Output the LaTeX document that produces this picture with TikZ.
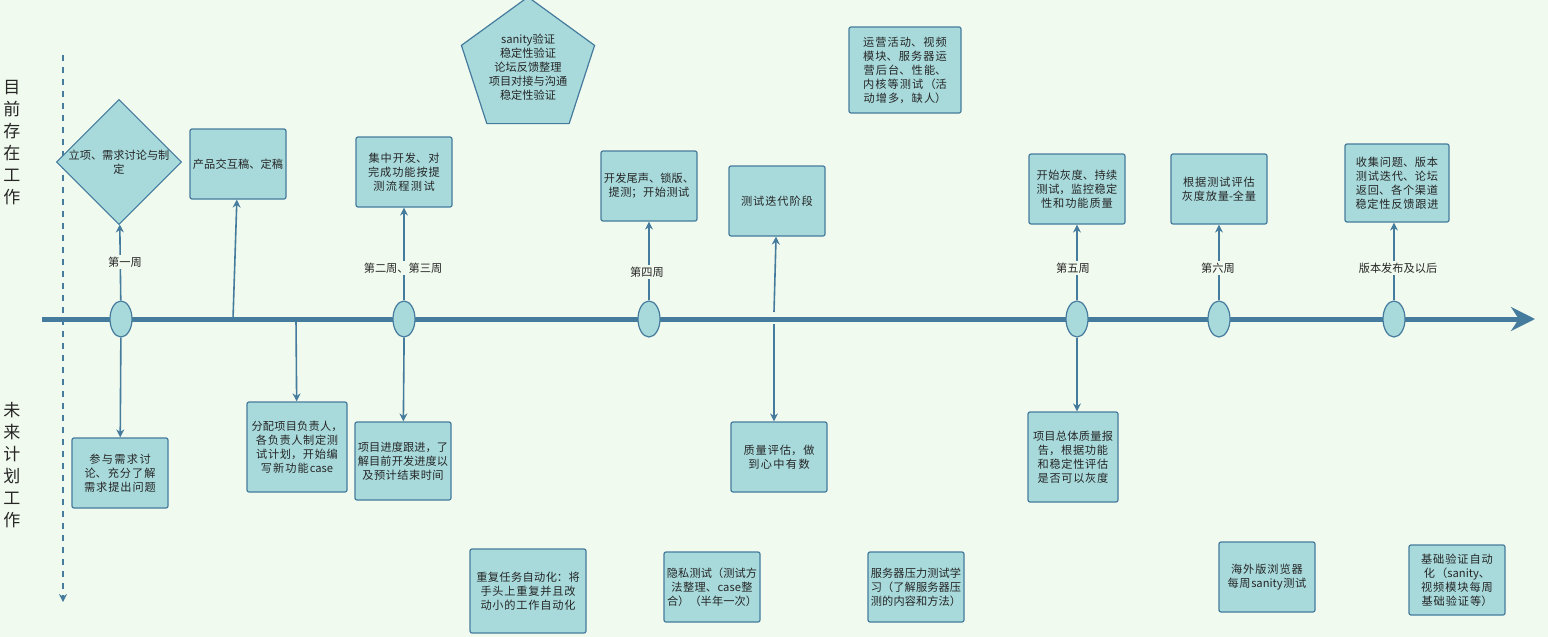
\documentclass[tikz,border=0pt]{standalone}
\usepackage{fontspec}
\setmainfont{Noto Sans CJK SC}
\XeTeXlinebreaklocale "zh"
\XeTeXlinebreakskip=0pt plus 1pt
\usetikzlibrary{shapes.geometric,arrows.meta}
\definecolor{bg}{HTML}{F1FAEE}
\definecolor{bx}{HTML}{A8DADC}
\definecolor{ln}{HTML}{457B9D}
\begin{document}
\begin{tikzpicture}[x=0.5pt,y=-0.5pt,
  every node/.style={font=\fontsize{5.6}{7}\selectfont, text=black!85, inner sep=1pt},
  box/.style={draw=ln, fill=bx, line width=0.6pt, rounded corners=1pt, align=center, text width=#1},
  box/.default=46pt,
  dot/.style={draw=ln, fill=bx, ellipse, minimum width=11pt, minimum height=18pt, line width=0.6pt, inner sep=0pt},
  con/.style={draw=ln, line width=0.8pt, -{Stealth[length=4pt,width=4pt]}},
  lab/.style={fill=bg, inner sep=1pt},
  side/.style={font=\fontsize{8.5}{11}\selectfont, align=center}]
\fill[bg] (0,0) rectangle (1548,637);
\useasboundingbox (0,0) rectangle (1548,637);
% side
\coordinate (dtop) at (63,55); \coordinate (dbot) at (63,602);
\draw[ln, dashed, line width=0.6pt, -{Stealth[length=4pt,width=4pt]}] (dtop) -- (dbot);
\node[side] (cur) at (12,143) {目\\前\\存\\在\\工\\作};
\node[side] (fut) at (12,465) {未\\来\\计\\划\\工\\作};
% timeline
\coordinate (ts) at (42,319); \coordinate (te) at (1535,319);
\draw[ln, line width=2.5pt, -{Stealth[length=12pt,width=12pt]}] (ts) -- (te);
\foreach \n/\x in {e1/121,e2/404,e3/649,e5/1077,e6/1219,e7/1394} \node[dot] (\n) at (\x,319) {};
\coordinate (t233) at (233,319); \coordinate (t296) at (296,319);
\coordinate (t774u) at (774,312); \coordinate (t774d) at (774,324);
% top
\node[draw=ln, fill=bx, diamond, line width=0.6pt, minimum width=60pt, minimum height=50pt, inner sep=0pt, align=center] (d1) at (119,162) {立项、需求讨论与制\\定};
\node[box, minimum height=35pt] (b2) at (238,164) {产品交互稿、定稿\\[14pt]};
\node[box, minimum height=35pt] (b3) at (404,172) {集中开发、对完成功能按提测流程测试\\[4pt]};
\node[draw=ln, fill=bx, regular polygon, regular polygon sides=5, minimum size=70pt, line width=0.6pt, inner sep=0pt, align=center] (p) at (528,67) {sanity验证\\稳定性验证\\论坛反馈整理\\项目对接与沟通\\稳定性验证};
\node[box, minimum height=35pt] (b4) at (649,186) {开发尾声、锁版、提测；开始测试};
\node[box, minimum height=35pt] (b5) at (777,201) {测试迭代阶段};
\node[box=54pt, minimum height=43pt] (b6) at (905,70) {运营活动、视频模块、服务器运营后台、性能、内核等测试（活动增多，缺人）};
\node[box, minimum height=35pt] (b7) at (1077,189) {开始灰度、持续测试，监控稳定性和功能质量};
\node[box, minimum height=35pt] (b8) at (1219,189) {根据测试评估灰度放量-全量};
\node[box=50pt, minimum height=39pt] (b9) at (1397,183) {收集问题、版本测试迭代、论坛返回、各个渠道稳定性反馈跟进};
% bottom
\node[box, minimum height=35pt] (c1) at (120,473) {参与需求讨论、充分了解需求提出问题};
\node[box=48pt, minimum height=45pt] (c2) at (297,447) {分配项目负责人，各负责人制定测试计划，开始编写新功能case};
\node[box, minimum height=39pt] (c3) at (403,461) {项目进度跟进，了解目前开发进度以及预计结束时间};
\node[box, minimum height=35pt] (c4) at (779,457) {质量评估，做到心中有数};
\node[box=43pt, minimum height=45pt] (c5) at (1073,457) {项目总体质量报告，根据功能和稳定性评估是否可以灰度};
\node[box=56pt, minimum height=42pt] (c6) at (528,591) {重复任务自动化：将手头上重复并且改动小的工作自动化};
\node[box, minimum height=35pt] (c7) at (712,587) {隐私测试（测试方法整理、case整合）（半年一次）};
\node[box, minimum height=35pt] (c8) at (916,587) {服务器压力测试学习（了解服务器压测的内容和方法）};
\node[box, minimum height=35pt] (c9) at (1267,577) {海外版浏览器每周sanity测试};
\node[box, minimum height=35pt] (c10) at (1457,580) {基础验证自动化（sanity、视频模块每周基础验证等）};
% connectors
\draw[con] (e1) -- (d1);
\draw[con] (e1) -- (c1);
\draw[con] (t233) -- (b2);
\draw[con] (t296) -- (c2);
\draw[con] (e2) -- (b3);
\draw[con] (e2) |- ++(0,30) -- (c3);
\draw[con] (e3) -- (b4);
\draw[con] (t774u) -- (b5);
\draw[con] (t774d) -- (c4.north -| t774d);
\draw[con] (e5) -- (b7);
\draw[con] (e5) -- (c5.north -| e5);
\draw[con] (e6) -- (b8);
\draw[con] (e7) -- (b9.south -| e7);
% labels
\node[lab] (l1) at (125,262) {第一周};
\node[lab] (l2) at (403,268) {第二周、第三周};
\node[lab] (l3) at (647,272) {第四周};
\node[lab] (l5) at (1073,268) {第五周};
\node[lab] (l6) at (1218,268) {第六周};
\node[lab] (l7) at (1398,268) {版本发布及以后};
\end{tikzpicture}
\end{document}
